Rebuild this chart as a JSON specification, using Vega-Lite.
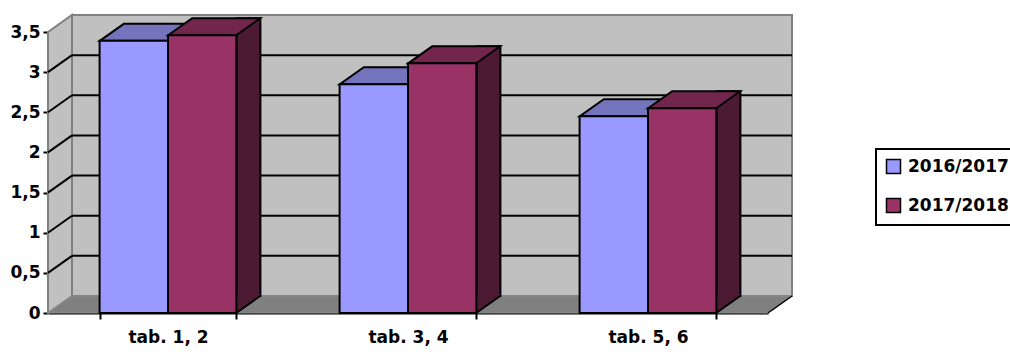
{
  "$schema": "https://vega.github.io/schema/vega-lite/v6.json",
  "width": 720,
  "height": 281,
  "autosize": {"type": "none"},
  "padding": {"left": 48, "top": 32, "right": 242, "bottom": 41},
  "background": "white",
  "config": {
    "view": {"stroke": null},
    "font": "DejaVu Sans",
    "axis": {
      "labelFont": "DejaVu Sans",
      "labelFontWeight": "bold",
      "labelFontSize": 17,
      "labelColor": "black",
      "domainColor": "black",
      "domainWidth": 2,
      "tickColor": "black",
      "tickWidth": 2,
      "grid": false,
      "zindex": 1
    }
  },
  "datasets": {
    "scores": [
      {"cat": "tab. 1, 2", "series": "2016/2017", "value": 3.39},
      {"cat": "tab. 1, 2", "series": "2017/2018", "value": 3.46},
      {"cat": "tab. 3, 4", "series": "2016/2017", "value": 2.85},
      {"cat": "tab. 3, 4", "series": "2017/2018", "value": 3.11},
      {"cat": "tab. 5, 6", "series": "2016/2017", "value": 2.45},
      {"cat": "tab. 5, 6", "series": "2017/2018", "value": 2.55}
    ],
    "grid": [{"v": 0.5}, {"v": 1}, {"v": 1.5}, {"v": 2}, {"v": 2.5}, {"v": 3}],
    "frame": [{"part": "frame"}]
  },
  "resolve": {"scale": {"x": "independent"}, "axis": {"x": "independent"}},
  "layer": [
    {
      "layer": [
        {
          "data": {"name": "frame"},
          "mark": {"type": "rect", "fill": "#c0c0c0", "stroke": "#808080", "strokeWidth": 2, "xOffset": 24, "x2Offset": 24, "yOffset": -17, "y2Offset": -17},
          "encoding": {
            "x": {"datum": 0, "type": "quantitative", "scale": {"domain": [0, 3], "nice": false, "zero": false}, "axis": null},
            "x2": {"datum": 3},
            "y": {"datum": 0, "type": "quantitative", "scale": {"domain": [0, 3.5], "nice": false}},
            "y2": {"datum": 3.5}
          }
        },
        {
          "data": {"name": "frame"},
          "mark": {"type": "point", "shape": "M0,0L24,-17L24,-298L0,-281Z", "size": 4, "filled": true, "fill": "#c0c0c0", "stroke": "#808080", "strokeWidth": 2, "opacity": 1},
          "encoding": {
            "x": {"datum": 0, "type": "quantitative", "axis": null},
            "y": {"datum": 0, "type": "quantitative"}
          }
        },
        {
          "data": {"name": "frame"},
          "mark": {"type": "point", "shape": "M0,0L24,-17L744,-17L720,0Z", "size": 4, "filled": true, "fill": "#808080", "stroke": "#8c8c8c", "strokeWidth": 1, "opacity": 1},
          "encoding": {
            "x": {"datum": 0, "type": "quantitative", "axis": null},
            "y": {"datum": 0, "type": "quantitative"}
          }
        },
        {
          "data": {"name": "grid"},
          "mark": {"type": "rule", "stroke": "black", "strokeWidth": 2, "xOffset": 24, "x2Offset": 24, "yOffset": -17},
          "encoding": {
            "x": {"datum": 0, "type": "quantitative", "axis": null},
            "x2": {"datum": 3},
            "y": {"field": "v", "type": "quantitative"}
          }
        },
        {
          "data": {"name": "grid"},
          "mark": {"type": "point", "shape": "M0,0L24,-17", "size": 4, "filled": false, "stroke": "black", "strokeWidth": 2, "opacity": 1},
          "encoding": {
            "x": {"datum": 0, "type": "quantitative", "axis": null},
            "y": {"field": "v", "type": "quantitative"}
          }
        },
        {
          "data": {"name": "frame"},
          "mark": {"type": "point", "shape": "M0,0L24,-17", "size": 4, "filled": false, "stroke": "black", "strokeWidth": 1.5, "opacity": 1},
          "encoding": {
            "x": {"datum": 3, "type": "quantitative", "axis": null},
            "y": {"datum": 0, "type": "quantitative"}
          }
        }
      ]
    },
    {
      "data": {"name": "scores"},
      "encoding": {
        "x": {
          "field": "cat",
          "type": "nominal",
          "scale": {"paddingInner": 0.43, "paddingOuter": 0.215},
          "axis": {"title": null, "labelAngle": 0, "tickBand": "extent", "tickSize": 6, "labelPadding": 10}
        }
      },
      "layer": [
        {
          "transform": [{"filter": "datum.series === '2017/2018'"}],
          "mark": {"type": "bar", "width": 24, "xOffset": 80.4, "yOffset": -17, "y2Offset": -17, "fill": "#4d1a33", "stroke": "black", "strokeWidth": 2},
          "encoding": {
            "y": {"field": "value", "type": "quantitative"}
          }
        },
        {
          "mark": {"type": "point", "shape": "M34,0L34,-19L58,-19L58,-17Z", "size": 4, "filled": true, "strokeWidth": 0, "opacity": 1},
          "encoding": {
            "xOffset": {"field": "series", "type": "nominal", "scale": {"paddingInner": 0, "paddingOuter": 0}},
            "y": {"datum": 0, "type": "quantitative"},
            "color": {"condition": {"test": "datum.series === '2016/2017'", "value": "#4d4d80"}, "value": "#4d1a33"}
          }
        },
        {
          "mark": {"type": "point", "shape": "M34,0L58,-17", "size": 4, "filled": false, "stroke": "black", "strokeWidth": 2, "opacity": 1},
          "encoding": {
            "xOffset": {"field": "series", "type": "nominal"},
            "y": {"datum": 0, "type": "quantitative"}
          }
        },
        {
          "mark": {"type": "point", "shape": "M-34,0L34,0L58,-17L-10,-17Z", "size": 4, "filled": true, "stroke": "black", "strokeWidth": 2, "opacity": 1},
          "encoding": {
            "xOffset": {"field": "series", "type": "nominal"},
            "y": {"field": "value", "type": "quantitative"},
            "color": {"condition": {"test": "datum.series === '2016/2017'", "value": "#7474bc"}, "value": "#73264d"}
          }
        },
        {
          "mark": {"type": "bar", "stroke": "black", "strokeWidth": 2},
          "encoding": {
            "xOffset": {"field": "series", "type": "nominal"},
            "y": {
              "field": "value",
              "type": "quantitative",
              "scale": {"domain": [0, 3.5], "nice": false},
              "axis": {
                "title": null,
                "values": [0, 0.5, 1, 1.5, 2, 2.5, 3, 3.5],
                "tickSize": 5,
                "labelPadding": 3,
                "labelExpr": "replace(toString(datum.value), '.', ',')"
              }
            },
            "color": {
              "field": "series",
              "type": "nominal",
              "scale": {"domain": ["2016/2017", "2017/2018"], "range": ["#9999ff", "#993366"]},
              "legend": {
                "title": null,
                "orient": "none",
                "legendX": 828,
                "legendY": 117,
                "padding": 9,
                "strokeColor": "black",
                "fillColor": "white",
                "symbolType": "square",
                "symbolSize": 196,
                "symbolStrokeColor": "black",
                "symbolStrokeWidth": 1.5,
                "symbolOpacity": 1,
                "labelFont": "DejaVu Sans",
                "labelFontWeight": "bold",
                "labelFontSize": 17,
                "labelColor": "black",
                "labelOffset": 6,
                "rowPadding": 18,
                "labelLimit": 300,
                "encode": {"legend": {"update": {"strokeWidth": {"value": 2}}}}
              }
            }
          }
        }
      ]
    }
  ]
}
